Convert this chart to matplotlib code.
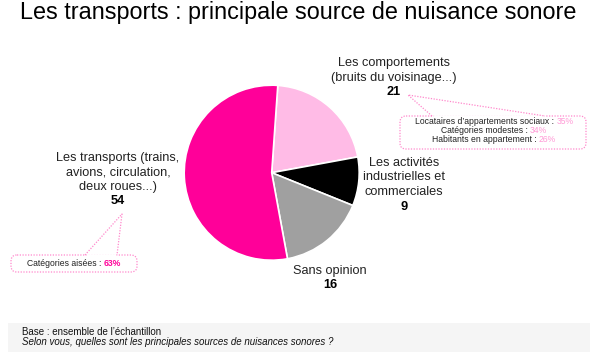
import matplotlib
matplotlib.use("Agg")
import matplotlib.pyplot as plt
from matplotlib.patches import FancyBboxPatch, Rectangle

plt.rcParams['font.family'] = ['Liberation Sans', 'DejaVu Sans']

# ---- data ----
categories = ["Les comportements", "Les activités industrielles et commerciales",
              "Sans opinion", "Les transports"]
values = [21, 9, 16, 54]
colors = ["#FFBBE6", "#000000", "#A0A0A0", "#FF0099"]
label_lines = [
    ["Les comportements", "(bruits du voisinage...)"],
    ["Les activités", "industrielles et", "commerciales"],
    ["Sans opinion"],
    ["Les transports (trains,", "avions, circulation,", "deux roues...)"],
]
right_callout_labels = ["Locataires d’appartements sociaux : ", "Catégories modestes : ",
                        "Habitants en appartement : "]
right_callout_values = ["35%", "34%", "26%"]
left_callout_label = "Catégories aisées : "
left_callout_value = "63%"

W, H = 596, 357
fig = plt.figure(figsize=(W / 100, H / 100), dpi=100)
ax = fig.add_axes([0, 0, 1, 1])
ax.set_xlim(0, W)
ax.set_ylim(H, 0)
ax.axis('off')

# pie drawn in pixel-like data space (y inverted -> mirror angles)
cx, cy, r = 271.7, 172.7, 87.5
ax.pie(values, colors=colors, startangle=-86, counterclock=True,
       center=(cx, cy), radius=r, frame=True,
       wedgeprops=dict(edgecolor='white', linewidth=1.2))
ax.set_xlim(0, W)
ax.set_ylim(H, 0)
ax.set_aspect('auto')
ax.axis('off')

# title
ax.text(298, 13, "Les transports : principale source de nuisance sonore",
        ha='center', va='center', fontsize=16.8, color='#000000')

label_pos = [(394, 63), (404, 163), (330, 271), (118, 158)]
spacing = 14.5
txtcol = '#222222'
for (x, y0), lines, v in zip(label_pos, label_lines, values):
    for i, ln in enumerate(lines):
        ax.text(x, y0 + i * spacing, ln, ha='center', va='center', fontsize=9.2, color=txtcol)
    ax.text(x, y0 + len(lines) * spacing, str(v), ha='center', va='center',
            fontsize=9.2, fontweight='bold', color='#000000')

callout_col = '#FF88CC'

def callout(x0, y0, x1, y1, b0, b1, tip):
    box = FancyBboxPatch((x0, y0), x1 - x0, y1 - y0,
                         boxstyle="round,pad=0,rounding_size=6",
                         fc='white', ec=callout_col, lw=0.9, ls=(0, (1, 1.2)))
    ax.add_patch(box)
    ax.plot([b0 + 1, b1 - 1], [y0, y0], color='white', lw=2.0, solid_capstyle='butt')
    ax.plot([b0, tip[0], b1], [y0, tip[1], y0], color=callout_col, lw=0.9,
            ls=(0, (1, 1.2)))

callout(400, 116, 586, 149, 432, 545, (408, 95))
callout(11, 255, 137, 272, 85, 117, (122, 214))

fig.canvas.draw()
rend = fig.canvas.get_renderer()
fs_small = 6.2

# right callout text
for i, (lab, val) in enumerate(zip(right_callout_labels, right_callout_values)):
    yy = 122 + i * 8.5
    t = ax.text(494, yy, lab + val, ha='center', va='center', fontsize=fs_small, color='white')
    bb = t.get_window_extent(renderer=rend)
    t.remove()
    xl = ax.transData.inverted().transform((bb.x0, 0))[0]
    t1 = ax.text(xl, yy, lab, ha='left', va='center', fontsize=fs_small, color=txtcol)
    bb1 = t1.get_window_extent(renderer=rend)
    xr = ax.transData.inverted().transform((bb1.x1, 0))[0]
    ax.text(xr, yy, val, ha='left', va='center', fontsize=fs_small, color='#FF99D6')

# left callout text
yy = 263
t = ax.text(74, yy, left_callout_label + left_callout_value, ha='center', va='center',
            fontsize=fs_small, color='white')
bb = t.get_window_extent(renderer=rend)
t.remove()
xl = ax.transData.inverted().transform((bb.x0, 0))[0]
t1 = ax.text(xl, yy, left_callout_label, ha='left', va='center', fontsize=fs_small, color=txtcol)
bb1 = t1.get_window_extent(renderer=rend)
xr = ax.transData.inverted().transform((bb1.x1, 0))[0]
ax.text(xr, yy, left_callout_value, ha='left', va='center', fontsize=fs_small,
        color='#FF0099', fontweight='bold')

# footer
ax.add_patch(Rectangle((8, 323), 582, 29, fc='#F5F5F5', ec='none', zorder=0))
ax.text(22, 332, "Base : ensemble de l’échantillon", ha='left', va='center',
        fontsize=7, color='#111111')
ax.text(22, 342, "Selon vous, quelles sont les principales sources de nuisances sonores ?",
        ha='left', va='center', fontsize=7, style='italic', color='#111111')

fig.savefig("out.png", dpi=100)
